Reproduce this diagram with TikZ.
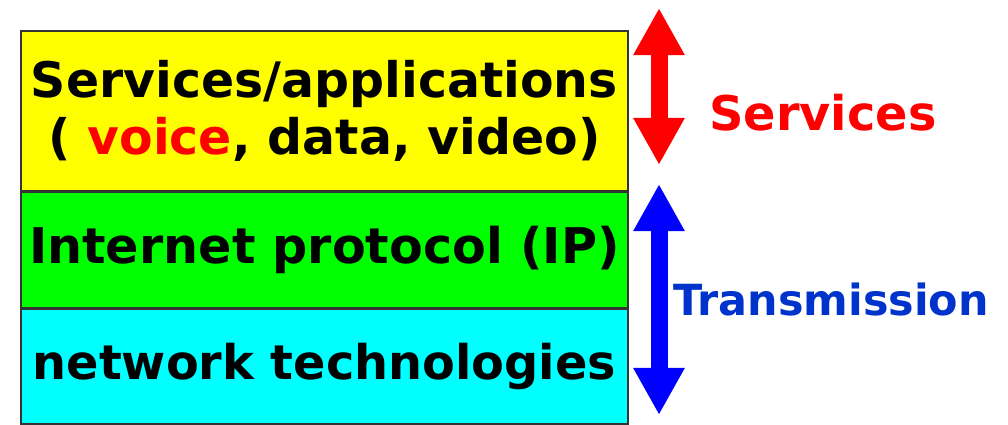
\documentclass[tikz,border=0pt]{standalone}
\usepackage{fontspec}
\setmainfont{DejaVu Sans}
\usetikzlibrary{positioning,arrows.meta}
\definecolor{svcred}{RGB}{255,0,0}
\definecolor{trblue}{RGB}{0,51,204}
\definecolor{arrblue}{RGB}{0,0,255}
\definecolor{appyellow}{RGB}{255,255,0}
\definecolor{ipgreen}{RGB}{0,255,0}
\definecolor{netcyan}{RGB}{0,255,255}
\newcommand{\bigfont}[1]{\fontsize{#1}{41}\selectfont\bfseries}
\tikzset{
  layer/.style={draw=black!80, line width=1.2pt, minimum width=15.175cm, inner sep=0pt, align=center},
  updown/.style={line width=0.425cm, {Triangle[length=1.175cm,width=1.2cm]}-{Triangle[length=1.175cm,width=1.2cm]}}
}
\begin{document}
\begin{tikzpicture}[x=0.025cm, y=-0.025cm]
  \useasboundingbox (0,0) rectangle (1008,424);
  % the three layers
  \node (apps) [layer, fill=appyellow, minimum height=4cm, anchor=north west, font=\bigfont{34.8}] at (20,30) {Services/applications\\( \textcolor{svcred}{voice}, data, video)};
  \node (ip) [layer, fill=ipgreen, minimum height=2.875cm, below=0pt of apps, font=\bigfont{35}] {Internet protocol (IP)};
  \node (net) [layer, fill=netcyan, minimum height=2.875cm, below=0pt of ip, font=\bigfont{34}] {network technologies};
  % arrows on the right
  \coordinate (svctop) at (659,8);
  \coordinate (svcbot) at (659,165);
  \coordinate (trtop) at (659,184);
  \coordinate (trbot) at (659,415);
  \draw [updown, svcred] (svctop) -- (svcbot);
  \draw [updown, arrblue] (trtop) -- (trbot);
  \node (svc) [text=svcred, font=\bigfont{34}] at (823,113) {Services};
  \node (tr) [text=trblue, font=\bigfont{30.5}] at (831,300) {Transmission};
\end{tikzpicture}
\end{document}
